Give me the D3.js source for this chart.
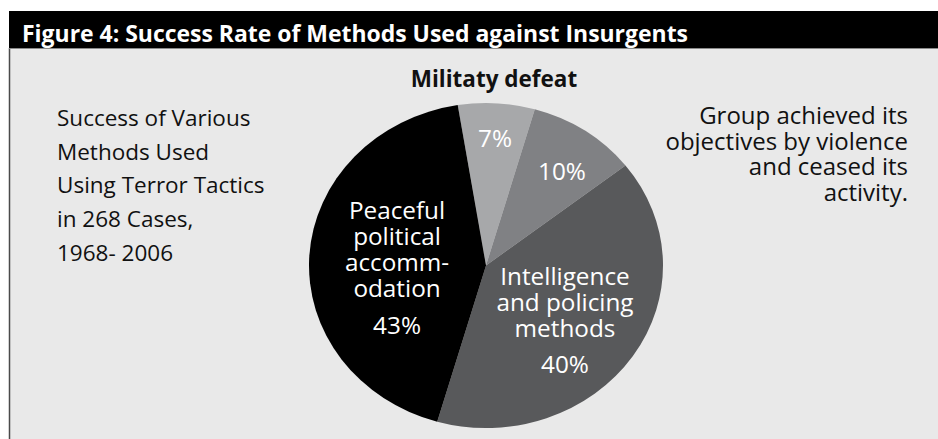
<!DOCTYPE html>
<html>
<head>
<meta charset="utf-8">
<script src="https://cdn.jsdelivr.net/npm/d3@7"></script>
<style>
  html, body { margin: 0; padding: 0; background: #fff; }
  svg { display: block; }
</style>
</head>
<body>
<div id="chart"></div>
<script>
// data
const titleText = "Figure 4: Success Rate of Methods Used against Insurgents"
const shares = [7, 10, 40, 43]
const pctLabels = ["7%", "10%", "40%", "43%"]
const insideLines = [[], [], ["Intelligence", "and policing", "methods"], ["Peaceful", "political", "accomm-", "odation"]]
const topNote = ["Militaty defeat"]
const rightNote = ["Group achieved its", "objectives by violence", "and ceased its", "activity."]
const leftNote = ["Success of Various", "Methods Used", "Using Terror Tactics", "in 268 Cases,", "1968- 2006"]

const sliceColors = ["#a7a8aa", "#808184", "#58595b", "#000000"]

const W = 938, H = 439
const cx = 486, cy = 265.5, rx = 177, ry = 162.5
const startDeg = -9.2
const font = "'Open Sans', 'Noto Sans', sans-serif"

// label anchor: radius fraction + small angle shift (deg) per slice
const labelPlace = [
  { f: 0.777, shift: 0.35 },
  { f: 0.715, shift: 2.9 },
  { f: 0.564, shift: 3.7 },
  { f: 0.503, shift: -5.8 }
]

const svg = d3.select("#chart").append("svg")
  .attr("width", W).attr("height", H)

// panel
svg.append("rect")
  .attr("x", 9).attr("y", 48).attr("width", W - 9).attr("height", H - 48)
  .attr("fill", "#e9e9e9")
svg.append("line")
  .attr("x1", 9.5).attr("x2", 9.5).attr("y1", 48).attr("y2", H)
  .attr("stroke", "#4a4a4a").attr("stroke-width", 1.5)

// title bar
svg.append("rect")
  .attr("x", 9).attr("y", 11).attr("width", W - 9).attr("height", 37)
  .attr("fill", "#000")
svg.append("line")
  .attr("x1", 9).attr("x2", W).attr("y1", 48.5).attr("y2", 48.5)
  .attr("stroke", "#8a8a8a").attr("stroke-width", 1.2)
svg.append("text")
  .attr("x", 22).attr("y", 41.5)
  .attr("fill", "#fff")
  .attr("font-family", font).attr("font-weight", 700).attr("font-size", 23.5)
  .attr("textLength", 666).attr("lengthAdjust", "spacingAndGlyphs")
  .text(titleText)

// pie (drawn as circle, squashed into the ellipse)
const pie = d3.pie().sort(null)
  .startAngle(startDeg * Math.PI / 180)
  .endAngle((startDeg + 360) * Math.PI / 180)
const arcs = pie(shares)
const arc = d3.arc().innerRadius(0).outerRadius(rx)

svg.append("g")
  .attr("transform", `translate(${cx},${cy}) scale(1,${ry / rx})`)
  .selectAll("path")
  .data(arcs)
  .join("path")
    .attr("d", arc)
    .attr("fill", (d, i) => sliceColors[i])

// slice labels
const lineGap = 26, pctGap = 36.5, fs = 24.3
arcs.forEach((d, i) => {
  const a = (d.startAngle + d.endAngle) / 2 + labelPlace[i].shift * Math.PI / 180
  const ax = cx + Math.sin(a) * rx * labelPlace[i].f
  const ay = cy - Math.cos(a) * ry * labelPlace[i].f
  const lines = insideLines[i]
  const blockH = lines.length ? (lines.length - 1) * lineGap + pctGap : 0
  const y0 = ay + 7.5 - blockH / 2
  const g = svg.append("g")
    .attr("font-family", font).attr("font-size", fs)
    .attr("fill", "#fff").attr("text-anchor", "middle")
  lines.forEach((t, j) => {
    g.append("text").attr("x", ax).attr("y", y0 + j * lineGap).text(t)
  })
  g.append("text")
    .attr("x", ax)
    .attr("y", lines.length ? y0 + (lines.length - 1) * lineGap + pctGap : y0)
    .text(pctLabels[i])
})

// notes around the pie
svg.append("text")
  .attr("x", 494).attr("y", 87)
  .attr("text-anchor", "middle")
  .attr("font-family", font).attr("font-weight", 700).attr("font-size", 22.5)
  .attr("fill", "#111")
  .text(topNote[0])

svg.append("g")
  .attr("font-family", font).attr("font-size", 24).attr("fill", "#111")
  .attr("text-anchor", "end")
  .selectAll("text").data(rightNote).join("text")
    .attr("x", 908).attr("y", (d, i) => 124 + i * 25.5)
    .text(d => d)

svg.append("g")
  .attr("font-family", font).attr("font-size", 22.5).attr("fill", "#111")
  .selectAll("text").data(leftNote).join("text")
    .attr("x", 57).attr("y", (d, i) => 126 + i * 33.7)
    .text(d => d)
</script>
</body>
</html>
